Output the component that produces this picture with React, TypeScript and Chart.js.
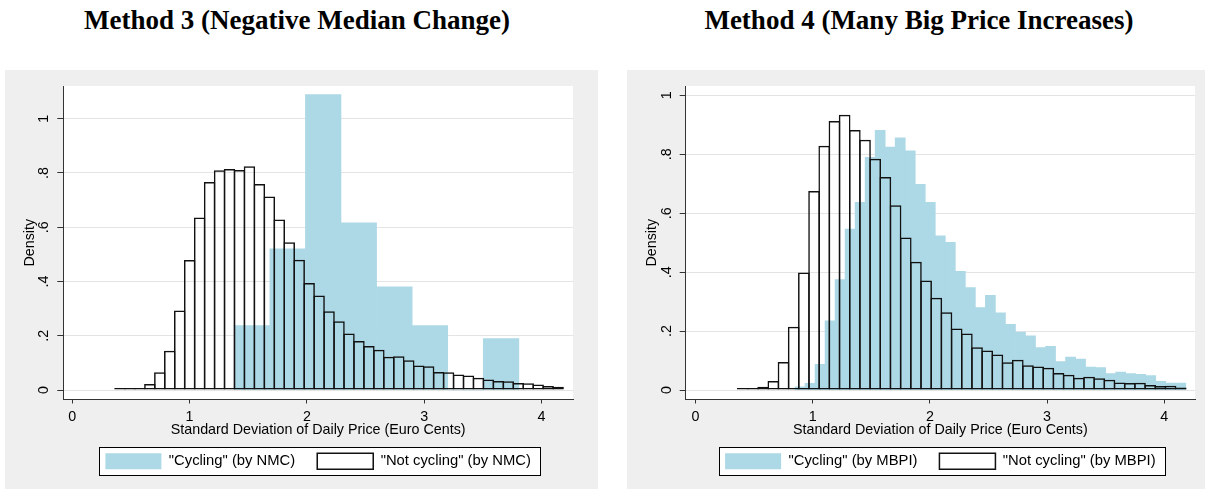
import React, { useEffect, useRef } from 'react';
import { Chart, registerables } from 'chart.js';

Chart.register(...registerables);

// ---------- axis ticks ----------
const xTicks = [0, 1, 2, 3, 4];
const yTicks = [0, 0.2, 0.4, 0.6, 0.8, 1];
const yTickLabels = ['0', '.2', '.4', '.6', '.8', '1'];
const xAxisTitle = 'Standard Deviation of Daily Price (Euro Cents)';
const yAxisTitle = 'Density';

// ---------- Method 3 (NMC) ----------
const nmcNotCyclingStart = 0.364;
const nmcNotCyclingWidth = 0.0849;
const nmcNotCycling = [
  0.003, 0.002, 0.005, 0.022, 0.065, 0.145, 0.293, 0.479, 0.636, 0.767,
  0.81, 0.815, 0.811, 0.825, 0.759, 0.713, 0.628, 0.545, 0.48, 0.394,
  0.348, 0.29, 0.253, 0.208, 0.181, 0.162, 0.148, 0.123, 0.124, 0.11,
  0.09, 0.088, 0.066, 0.065, 0.057, 0.053, 0.045, 0.039, 0.033, 0.032,
  0.026, 0.025, 0.02, 0.015, 0.012,
];
const nmcCyclingStart = 1.381;
const nmcCyclingWidth = 0.3033;
const nmcCycling = [0.237, 0.52, 1.089, 0.616, 0.38, 0.237, 0, 0.19];

// ---------- Method 4 (MBPI) ----------
const mbpiNotCyclingStart = 0.36;
const mbpiNotCyclingWidth = 0.0869;
const mbpiNotCycling = [
  0.002, 0.001, 0.011, 0.031, 0.095, 0.215, 0.399, 0.675, 0.829, 0.913,
  0.934, 0.882, 0.849, 0.785, 0.723, 0.627, 0.518, 0.435, 0.372, 0.313,
  0.264, 0.209, 0.192, 0.145, 0.134, 0.121, 0.094, 0.103, 0.084, 0.08,
  0.076, 0.058, 0.052, 0.042, 0.045, 0.04, 0.035, 0.026, 0.024, 0.025,
  0.017, 0.014, 0.015, 0.009,
];
const mbpiCyclingStart = 0.849;
const mbpiCyclingWidth = 0.0855;
const mbpiCycling = [
  0.011, 0.023, 0.087, 0.235, 0.375, 0.546, 0.637, 0.79, 0.881, 0.824,
  0.856, 0.812, 0.698, 0.637, 0.523, 0.501, 0.403, 0.348, 0.28, 0.321,
  0.262, 0.223, 0.197, 0.184, 0.144, 0.148, 0.097, 0.112, 0.105, 0.078,
  0.076, 0.056, 0.061, 0.056, 0.053, 0.049, 0.03, 0.024, 0.024,
];

const FONT_FAMILY = "'Liberation Sans', Arial, sans-serif";
const BLUE = '#add8e6';
const PANEL_GRAY = '#efefef';

function binPoints(start: number, width: number, values: number[]) {
  return values.map((v, i) => ({ x: start + (i + 0.5) * width, y: v }));
}

const panelPlugin = {
  id: 'panelBg',
  beforeDraw(chart: any) {
    const { ctx, chartArea: ca, width, height } = chart;
    ctx.save();
    ctx.fillStyle = PANEL_GRAY;
    ctx.fillRect(0, 0, width, height);
    ctx.fillStyle = '#ffffff';
    ctx.fillRect(ca.left, ca.top, ca.right - ca.left, ca.bottom - ca.top);
    const lg = chart.legend;
    if (lg && lg.legendHitBoxes && lg.legendHitBoxes.length) {
      const shift = (ca.left + ca.right) / 2 - (lg.left + lg.right) / 2;
      lg.left += shift;
      lg.right += shift;
      const hb = lg.legendHitBoxes;
      const first = hb[0];
      const last = hb[hb.length - 1];
      const x0 = Math.round(first.left + shift - 6) + 0.5;
      const x1 = Math.round(last.left + last.width + shift + 9) + 0.5;
      const y0 = Math.round(first.top - 6.6) + 0.5;
      const y1 = Math.round(first.top + first.height + 5.7) + 0.5;
      ctx.fillStyle = '#ffffff';
      ctx.fillRect(x0, y0, x1 - x0, y1 - y0);
      ctx.strokeStyle = '#000000';
      ctx.lineWidth = 1;
      ctx.strokeRect(x0, y0, x1 - x0, y1 - y0);
    }
    ctx.restore();
  },
};

type PanelProps = {
  left: number;
  top: number;
  width: number;
  height: number;
  padRight: number;
  yAxisWidth: number;
  xMin: number;
  xMax: number;
  yMin: number;
  yMax: number;
  cycLabel: string;
  notLabel: string;
  cyc: { x: number; y: number }[];
  not: { x: number; y: number }[];
};

function Panel(p: PanelProps) {
  const ref = useRef<HTMLCanvasElement | null>(null);
  useEffect(() => {
    if (!ref.current) return;
    const font = { family: FONT_FAMILY, size: 14.3 };
    const legendFont = { family: FONT_FAMILY, size: 14.8 };
    const chart = new Chart(ref.current, {
      type: 'bar',
      data: {
        datasets: [
          {
            label: p.cycLabel,
            data: p.cyc as any,
            xAxisID: 'xc',
            backgroundColor: BLUE,
            borderWidth: 0,
            barPercentage: 1,
            categoryPercentage: 1,
            grouped: false,
            order: 2,
          } as any,
          {
            label: p.notLabel,
            data: p.not as any,
            xAxisID: 'x',
            backgroundColor: 'rgba(255,255,255,0)',
            borderColor: '#111111',
            borderWidth: 1.5,
            borderSkipped: false,
            barPercentage: 1.15,
            categoryPercentage: 1,
            grouped: false,
            inflateAmount: 0,
            minBarLength: 2,
            order: 1,
          } as any,
        ],
      },
      options: {
        responsive: false,
        animation: false,
        events: [],
        layout: { padding: { left: 0, right: p.padRight, top: 16, bottom: 9.7 } },
        plugins: {
          tooltip: { enabled: false },
          title: { display: false },
          legend: {
            display: true,
            position: 'bottom',
            labels: {
              boxWidth: 56,
              boxHeight: 16,
              padding: 22,
              color: '#000000',
              font: legendFont,
              sort: (a: any, b: any) => a.datasetIndex - b.datasetIndex,
            },
          },
        },
        scales: {
          x: {
            type: 'linear',
            position: 'bottom',
            min: p.xMin,
            max: p.xMax,
            offset: false,
            afterBuildTicks: (s: any) => {
              s.ticks = xTicks.map((v) => ({ value: v }));
            },
            afterFit: (s: any) => {
              s.height = 31.8;
            },
            grid: {
              offset: false,
              drawOnChartArea: false,
              drawTicks: true,
              tickLength: 4,
              tickColor: '#333333',
              tickWidth: 1,
            },
            border: { display: true, color: '#333333', width: 1 },
            ticks: {
              color: '#000000',
              font,
              padding: 5,
              maxRotation: 0,
              autoSkip: false,
              callback: (v: any) => String(v),
            },
            title: {
              display: true,
              text: xAxisTitle,
              color: '#000000',
              font,
              padding: { top: 0, bottom: -7.8 },
            },
          },
          xc: {
            type: 'linear',
            display: false,
            min: p.xMin,
            max: p.xMax,
            offset: false,
            grid: { offset: false },
          },
          y: {
            type: 'linear',
            min: p.yMin,
            max: p.yMax,
            afterBuildTicks: (s: any) => {
              s.ticks = yTicks.map((v) => ({ value: v }));
            },
            afterFit: (s: any) => {
              s.width = p.yAxisWidth;
            },
            grid: {
              color: '#e4e4e4',
              lineWidth: 1,
              drawTicks: true,
              tickLength: 6,
              tickColor: '#333333',
              tickWidth: 1,
            },
            border: { display: true, color: '#333333', width: 1 },
            ticks: {
              color: '#000000',
              font,
              minRotation: 90,
              maxRotation: 90,
              crossAlign: 'center',
              padding: 7,
              autoSkip: false,
              callback: (_v: any, i: number) => yTickLabels[i],
            },
            title: {
              display: true,
              text: yAxisTitle,
              color: '#000000',
              font,
              padding: { top: 16.4, bottom: 0 },
            },
          },
        },
      } as any,
      plugins: [panelPlugin],
    });
    return () => chart.destroy();
  }, []);
  return (
    <canvas
      ref={ref}
      width={p.width}
      height={p.height}
      style={{ position: 'absolute', left: p.left, top: p.top, width: p.width, height: p.height, display: 'block' }}
    />
  );
}

function titleStyle(cx: number): React.CSSProperties {
  return {
    position: 'absolute',
    left: cx - 300,
    top: 4.5,
    width: 600,
    textAlign: 'center',
    fontFamily: "'Liberation Serif', 'Times New Roman', serif",
    fontWeight: 'bold',
    fontSize: 27,
    lineHeight: '30px',
    color: '#000',
    whiteSpace: 'nowrap',
  };
}

export default function App() {
  return (
    <div style={{ position: 'absolute', left: 0, top: 0, width: 1210, height: 491, background: '#fff', overflow: 'hidden' }}>
      <div style={titleStyle(297)}>Method 3 (Negative Median Change)</div>
      <div style={titleStyle(919)}>Method 4 (Many Big Price Increases)</div>
      <Panel
        left={5}
        top={70}
        width={593}
        height={419}
        padRight={25}
        yAxisWidth={58.3}
        xMin={-0.0767}
        xMax={4.269}
        yMin={-0.035}
        yMax={1.1205}
        cycLabel={'"Cycling" (by NMC)'}
        notLabel={'"Not cycling" (by NMC)'}
        cyc={binPoints(nmcCyclingStart, nmcCyclingWidth, nmcCycling)}
        not={binPoints(nmcNotCyclingStart, nmcNotCyclingWidth, nmcNotCycling)}
      />
      <Panel
        left={627}
        top={70}
        width={578}
        height={419}
        padRight={10}
        yAxisWidth={58.7}
        xMin={-0.0836}
        xMax={4.262}
        yMin={-0.032}
        yMax={1.0316}
        cycLabel={'"Cycling" (by MBPI)'}
        notLabel={'"Not cycling" (by MBPI)'}
        cyc={binPoints(mbpiCyclingStart, mbpiCyclingWidth, mbpiCycling)}
        not={binPoints(mbpiNotCyclingStart, mbpiNotCyclingWidth, mbpiNotCycling)}
      />
    </div>
  );
}
